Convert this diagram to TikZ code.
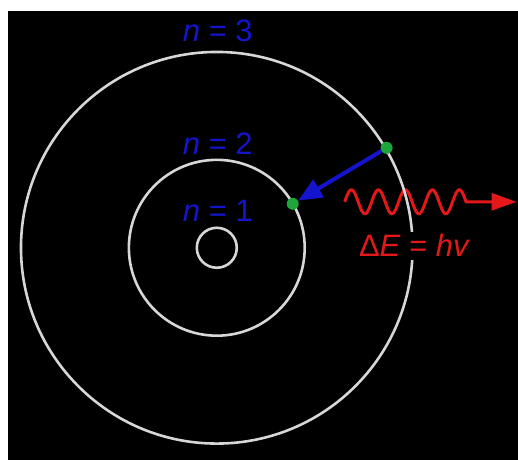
\documentclass[tikz,border=0pt]{standalone}
\usepackage{fontspec}
\setmainfont{Liberation Sans}
\usetikzlibrary{arrows.meta,positioning,calc}

\definecolor{orbitgray}{RGB}{215,215,215}
\definecolor{levelblue}{RGB}{20,20,205}
\definecolor{photonred}{RGB}{228,24,24}
\definecolor{dotgreen}{RGB}{30,165,60}

\begin{document}
\begin{tikzpicture}[
    x=1pt, y=-1pt,
    orbit/.style={draw=orbitgray, line width=2.6pt},
    level/.style={text=levelblue, font=\fontsize{31}{31}\selectfont, anchor=base, inner sep=0pt},
    electron/.style={circle, fill=dotgreen, minimum size=12pt, inner sep=0pt},
    jump/.style={draw=levelblue, line width=4pt, -{Triangle[length=24pt,width=20pt]}},
    photon/.style={draw=photonred, line width=3pt, -{Triangle[length=25pt,width=17pt]}},
    energy/.style={text=photonred, font=\fontsize{31}{31}\selectfont, fill=black, inner sep=3pt},
]
  % background
  \fill[white] (0,0) rectangle (518,460);
  \fill[black] (8,11) rectangle (518,460);

  % photon
  \coordinate (wave) at (345,202);
  \coordinate (tip) at (517,202);
  \draw[photon] plot[domain=0:121.5, samples=120, smooth] ({345+\x},{202-12*sin((\x/27)*360)}) -- (tip);

  % orbits
  \coordinate (nucleus) at (217,248);
  \draw[orbit] (nucleus) circle[radius=20pt];
  \draw[orbit] (nucleus) circle[radius=88pt];
  \draw[orbit] (nucleus) circle[radius=196pt];

  % labels
  \node[level] (n3) at (218,42) {\textit{n} = 3};
  \node[level] (n2) at (218,155) {\textit{n} = 2};
  \node[level] (n1) at (218,222) {\textit{n} = 1};
  \node[energy] (de) at (415,246) {Δ\textit{E} = \textit{hv}};

  % electron jump
  \node[electron] (upper) at (387,148) {};
  \node[electron] (lower) at (293,204) {};
  \draw[jump] (upper) -- (lower);
\end{tikzpicture}
\end{document}
